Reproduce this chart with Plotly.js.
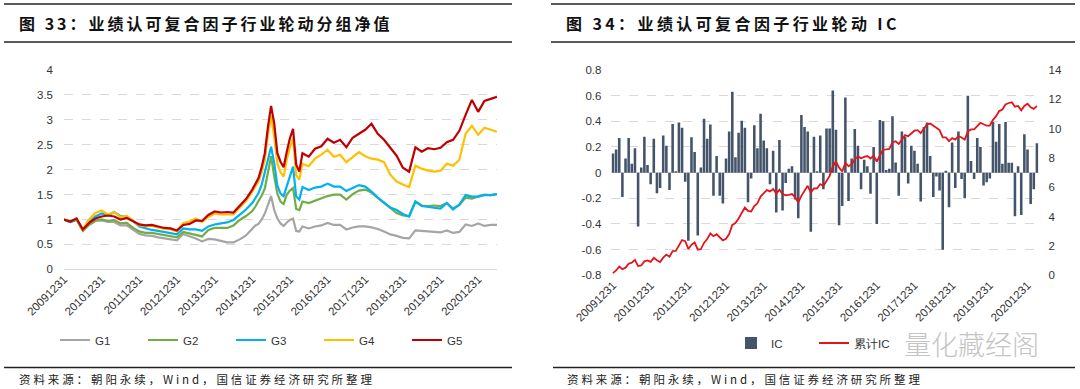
<!DOCTYPE html>
<html>
<head>
<meta charset="utf-8">
<script src="https://cdn.plot.ly/plotly-3.0.1.min.js"></script>
<style>
html,body{margin:0;padding:0;background:#fff;}
#chart{width:1080px;height:389px;}
</style>
</head>
<body>
<div id="chart"></div>
<script>
// ---------- DATA ----------
const yearLabels = ['20091231','20101231','20111231','20121231','20131231','20141231',
                    '20151231','20161231','20171231','20181231','20191231','20201231'];

const navMonth = [0,2,4,6,8,10,12,14,16,18,20,22,24,26,28,30,32,34,36,38,40,42,44,46,48,50,52,54,56,58,
  60,61,62,63,64,65,66,67,68,69,70,71,72,73,74,75,76,
  78,80,82,84,86,88,90,92,94,96,98,100,102,104,106,108,110,112,114,116,118,120,122,124,126,128,130,132,134,136,138];

const g5 = [1.00,0.96,1.02,0.80,0.93,1.02,1.06,1.08,1.06,1.00,1.03,0.97,0.90,0.88,
  0.89,0.86,0.83,0.82,0.78,0.89,0.91,0.98,0.97,1.09,1.16,1.14,1.15,1.14,1.27,1.41,
  1.60,1.72,1.83,2.05,2.33,2.86,3.28,2.93,2.33,2.16,2.05,2.36,2.63,2.82,2.10,1.96,2.33,
  2.26,2.42,2.47,2.62,2.54,2.60,2.45,2.64,2.72,2.80,2.92,2.72,2.60,2.45,2.28,2.04,1.96,2.45,2.36,2.43,
  2.41,2.44,2.55,2.60,2.78,3.10,3.40,3.16,3.38,3.42,3.46];
const g4 = [1.00,0.97,1.01,0.80,1.00,1.13,1.18,1.10,1.15,1.05,1.07,0.98,0.88,0.87,
  0.87,0.84,0.81,0.80,0.76,0.93,0.96,1.02,0.95,1.05,1.12,1.10,1.10,1.10,1.24,1.37,
  1.56,1.66,1.76,1.95,2.20,2.70,3.08,2.66,2.12,1.95,1.86,2.20,2.45,2.63,1.89,1.80,2.12,
  2.07,2.22,2.30,2.40,2.26,2.30,2.15,2.26,2.35,2.27,2.22,2.20,2.15,1.90,1.76,1.70,1.65,2.08,2.02,1.98,
  1.96,1.98,2.12,2.08,2.20,2.72,2.88,2.70,2.84,2.80,2.76];
const g3 = [1.00,0.95,1.00,0.80,0.96,1.06,1.12,1.08,1.15,1.07,1.06,0.97,0.86,0.82,
  0.79,0.77,0.75,0.73,0.70,0.82,0.80,0.80,0.77,0.86,0.90,0.92,0.94,0.99,1.10,1.20,
  1.33,1.43,1.53,1.70,1.93,2.20,2.46,2.13,1.68,1.52,1.47,1.66,1.85,2.06,1.46,1.40,1.65,
  1.59,1.64,1.66,1.72,1.66,1.66,1.57,1.63,1.69,1.66,1.56,1.44,1.34,1.24,1.19,1.11,1.06,1.36,1.27,1.25,
  1.24,1.22,1.33,1.20,1.30,1.49,1.46,1.46,1.49,1.49,1.51];
const g2 = [1.00,0.95,1.00,0.78,0.90,0.98,1.00,0.97,0.99,0.92,0.93,0.83,0.76,0.73,
  0.73,0.71,0.69,0.67,0.64,0.75,0.72,0.69,0.66,0.79,0.83,0.83,0.83,0.88,0.99,1.07,
  1.17,1.26,1.36,1.48,1.62,1.95,2.27,1.86,1.52,1.36,1.31,1.50,1.58,1.63,1.21,1.19,1.36,
  1.33,1.38,1.42,1.47,1.50,1.50,1.40,1.51,1.58,1.60,1.54,1.44,1.34,1.24,1.13,1.08,1.07,1.36,1.28,1.27,
  1.28,1.27,1.33,1.22,1.29,1.44,1.42,1.46,1.50,1.49,1.51];
const g1 = [1.00,0.95,0.99,0.77,0.89,0.97,0.98,0.95,0.95,0.88,0.88,0.79,0.71,0.68,
  0.67,0.64,0.62,0.60,0.58,0.71,0.67,0.62,0.56,0.61,0.60,0.57,0.54,0.54,0.60,0.68,
  0.82,0.88,0.91,1.00,1.12,1.30,1.47,1.19,1.02,0.92,0.87,0.94,0.99,1.02,0.77,0.76,0.86,
  0.82,0.86,0.88,0.93,0.89,0.89,0.80,0.84,0.86,0.86,0.84,0.81,0.76,0.70,0.67,0.63,0.62,0.78,0.77,0.76,
  0.74,0.74,0.78,0.73,0.75,0.90,0.87,0.92,0.87,0.89,0.89];

// monthly IC (left axis) and cumulative IC (right axis)
const icValues = [0.15,0.18,0.27,-0.19,0.11,0.27,0.07,0.19,-0.42,0.04,0.28,0.06,-0.09,0.265,-0.16,-0.12,0.29,0.21,-0.135,0.38,
  0.01,0.39,0.35,-0.07,-0.53,0.275,0.16,-0.49,0.04,0.42,0.265,0.375,-0.18,0.13,
  -0.18,-0.24,0.11,0.32,0.63,0.12,0.31,0.405,0.35,-0.23,-0.045,0.37,0.19,0.46,0.25,0.19,-0.09,0.17,-0.31,0.255,
  -0.295,-0.08,0.03,0.05,-0.21,-0.355,
  0.45,0.355,0.32,-0.46,0.28,0.01,0.29,-0.13,0.345,0.345,0.64,0.335,-0.41,-0.26,0.585,-0.22,0.11,0.34,0.21,-0.13,
  0.10,0.05,-0.165,0.20,-0.40,0.41,0.40,0.02,0.03,0.44,0.08,-0.18,0.32,0.28,-0.085,0.21,0.17,0.07,-0.225,0.355,
  0.39,0.13,-0.19,
  -0.03,-0.14,-0.60,0.015,-0.27,0.235,-0.12,0.32,-0.05,-0.20,0.60,0.09,-0.05,0.27,0.20,-0.10,-0.075,-0.045,0.395,0.24,
  0.38,0.07,0.395,0.078,0.078,-0.34,0.05,-0.33,0.30,0.18,-0.245,-0.13,0.23];
const icCum = [0.15,0.33,0.60,0.41,0.52,0.79,0.86,1.05,0.63,0.67,0.95,1.01,0.92,1.19,1.03,0.91,1.20,1.41,1.27,1.65,
  1.66,2.05,2.40,2.33,1.80,2.08,2.24,1.75,1.79,2.21,2.47,2.85,2.67,2.80,
  2.62,2.38,2.49,2.81,3.44,3.56,3.87,4.27,4.62,4.39,4.35,4.72,4.91,5.37,5.62,5.81,5.72,5.89,5.58,5.83,
  5.54,5.46,5.49,5.54,5.33,4.97,
  5.42,5.78,6.10,5.64,5.92,5.93,6.22,6.09,6.43,6.78,7.42,7.75,7.34,7.08,7.67,7.45,7.56,7.90,8.11,7.98,
  8.08,8.13,7.96,8.16,7.76,8.17,8.57,8.59,8.62,9.06,9.14,8.96,9.28,9.56,9.48,9.69,9.86,9.90,9.70,10.00,
  10.30,10.35,10.20,
  10.10,9.90,9.40,9.40,9.15,9.35,9.25,9.50,9.40,9.25,9.80,9.95,9.95,10.20,10.40,10.30,10.20,10.20,10.60,10.85,
  11.20,11.30,11.65,11.75,11.80,11.50,11.55,11.25,11.55,11.70,11.45,11.35,11.55];

const icTickVals = [-0.8,-0.6,-0.4,-0.2,0,0.2,0.4,0.6,0.8];
const icTickText = ['-0.8','-0.6','-0.4','-0.2','0','0.2','0.4','0.6','0.8'];

const titleLeft = '图 33：业绩认可复合因子行业轮动分组净值';
const titleRight = '图 34：业绩认可复合因子行业轮动 IC';
const sourceText = '资料来源：朝阳永续，Wind，国信证券经济研究所整理';
const watermark = '量化藏经阁';

// ---------- LAYOUT HELPERS ----------
const W = 1080, H = 389;
const px = x => x / W;
const py = y => 1 - y / H;
const FONT = '"Liberation Sans", Arial, sans-serif';
const CJK = '"Noto Sans CJK SC", "Noto Sans", sans-serif';
const tickVals = yearLabels.map((_, i) => i * 12);
const icIdx = icValues.map((_, i) => i);

const lineStyle = c => ({color: c, width: 2.2});
const traces = [
  {x: navMonth, y: g1, name: 'G1', type: 'scatter', mode: 'lines', line: lineStyle('#A5A5A5'), xaxis: 'x', yaxis: 'y', legend: 'legend'},
  {x: navMonth, y: g2, name: 'G2', type: 'scatter', mode: 'lines', line: lineStyle('#70AD47'), xaxis: 'x', yaxis: 'y', legend: 'legend'},
  {x: navMonth, y: g3, name: 'G3', type: 'scatter', mode: 'lines', line: lineStyle('#00B0F0'), xaxis: 'x', yaxis: 'y', legend: 'legend'},
  {x: navMonth, y: g4, name: 'G4', type: 'scatter', mode: 'lines', line: lineStyle('#FFC000'), xaxis: 'x', yaxis: 'y', legend: 'legend'},
  {x: navMonth, y: g5, name: 'G5', type: 'scatter', mode: 'lines', line: lineStyle('#C00000'), xaxis: 'x', yaxis: 'y', legend: 'legend'},
  {x: icIdx, y: icValues, name: 'IC', type: 'bar', marker: {color: '#44546A'}, xaxis: 'x2', yaxis: 'y2', legend: 'legend2'},
  {x: icIdx, y: icCum, name: '累计IC', type: 'scatter', mode: 'lines', line: {color: '#E3141B', width: 1.8}, xaxis: 'x2', yaxis: 'y3', legend: 'legend2'}
];

const tickFont = {family: FONT, size: 11.5, color: '#333'};
const xCommon = {
  tickmode: 'array', tickvals: tickVals, ticktext: yearLabels, tickangle: -45,
  showgrid: false, zeroline: false, showline: false, ticks: '', tickfont: tickFont, fixedrange: true
};

const layout = {
  width: W, height: H,
  margin: {l: 0, r: 0, t: 0, b: 0},
  paper_bgcolor: '#fff', plot_bgcolor: 'rgba(0,0,0,0)',
  showlegend: true, bargap: 0.18,
  xaxis: Object.assign({}, xCommon, {domain: [px(64), px(497)], range: [0, 138], anchor: 'y'}),
  yaxis: {domain: [py(269.3), py(70)], range: [0, 4], tick0: 0, dtick: 0.5, anchor: 'x',
    showgrid: true, gridcolor: '#D9D9D9', griddash: 'dash', gridwidth: 1,
    zeroline: true, zerolinecolor: '#D9D9D9', zerolinewidth: 1,
    showline: false, ticks: '', tickfont: tickFont, ticklabelstandoff: 10, fixedrange: true},
  xaxis2: Object.assign({}, xCommon, {domain: [px(611.4), px(1038.5)], range: [-0.5, 135.5], anchor: 'y2'}),
  yaxis2: {domain: [py(275.3), py(70)], range: [-0.8, 0.8], tickmode: 'array', tickvals: icTickVals, ticktext: icTickText,
    anchor: 'x2', showgrid: true, gridcolor: '#D9D9D9', griddash: 'dash', gridwidth: 1,
    zeroline: true, zerolinecolor: '#D9D9D9', zerolinewidth: 1,
    showline: false, ticks: '', tickfont: tickFont, ticklabelstandoff: 9, fixedrange: true},
  yaxis3: {overlaying: 'y2', side: 'right', anchor: 'x2', range: [0, 14], tick0: 0, dtick: 2,
    showgrid: false, zeroline: false, showline: false, ticks: '', tickfont: tickFont, ticklabelstandoff: 9, fixedrange: true},
  legend: {orientation: 'h', x: px(55), y: py(340), xanchor: 'left', yanchor: 'middle',
    font: {family: FONT, size: 11.5, color: '#333'}, entrywidth: 43, entrywidthmode: 'pixels',
    bgcolor: 'rgba(0,0,0,0)', itemwidth: 30, tracegroupgap: 0},
  legend2: {orientation: 'h', x: px(731), y: py(343), xanchor: 'left', yanchor: 'middle',
    font: {family: FONT, size: 11.5, color: '#333'}, entrywidth: 38, entrywidthmode: 'pixels',
    bgcolor: 'rgba(0,0,0,0)', itemwidth: 30, tracegroupgap: 0},
  shapes: [
    {type: 'line', xref: 'paper', yref: 'paper', x0: px(4), x1: px(512), y0: py(4), y1: py(4), line: {color: '#222', width: 1.4}},
    {type: 'line', xref: 'paper', yref: 'paper', x0: px(4), x1: px(512), y0: py(42), y1: py(42), line: {color: '#222', width: 1.4}},
    {type: 'line', xref: 'paper', yref: 'paper', x0: px(4), x1: px(512), y0: py(367.5), y1: py(367.5), line: {color: '#222', width: 1.4}},
    {type: 'line', xref: 'paper', yref: 'paper', x0: px(551), x1: px(1075), y0: py(4), y1: py(4), line: {color: '#222', width: 1.4}},
    {type: 'line', xref: 'paper', yref: 'paper', x0: px(551), x1: px(1075), y0: py(42), y1: py(42), line: {color: '#222', width: 1.4}},
    {type: 'line', xref: 'paper', yref: 'paper', x0: px(553), x1: px(1075), y0: py(367.5), y1: py(367.5), line: {color: '#222', width: 1.4}}
  ],
  annotations: [
    {text: titleLeft, xref: 'paper', yref: 'paper', x: px(17), y: py(23), xanchor: 'left', yanchor: 'middle', align: 'left',
      showarrow: false, font: {family: CJK, size: 16, color: '#111', weight: 'bold'}},
    {text: titleRight, xref: 'paper', yref: 'paper', x: px(564), y: py(23), xanchor: 'left', yanchor: 'middle', align: 'left',
      showarrow: false, font: {family: CJK, size: 16, color: '#111', weight: 'bold'}},
    {text: sourceText, xref: 'paper', yref: 'paper', x: px(17), y: py(378.5), xanchor: 'left', yanchor: 'middle', align: 'left',
      showarrow: false, font: {family: CJK, size: 11.5, color: '#222'}},
    {text: sourceText, xref: 'paper', yref: 'paper', x: px(565), y: py(378.5), xanchor: 'left', yanchor: 'middle', align: 'left',
      showarrow: false, font: {family: CJK, size: 11.5, color: '#222'}},
    {text: watermark, xref: 'paper', yref: 'paper', x: px(902), y: py(343), xanchor: 'left', yanchor: 'middle', align: 'left',
      showarrow: false, font: {family: CJK, size: 27, color: '#C4C4C4', weight: 300}}
  ]
};

Plotly.newPlot('chart', traces, layout, {displayModeBar: false, staticPlot: true}).then(gd => {
  const spacing = [3, 3.4, 2.9, 2.9, 0];
  gd.querySelectorAll('.annotation').forEach((g, i) => {
    const t = g.querySelector('text.annotation-text');
    if (t && spacing[i] !== undefined) t.style.letterSpacing = spacing[i] + 'px';
  });
});
</script>
</body>
</html>
